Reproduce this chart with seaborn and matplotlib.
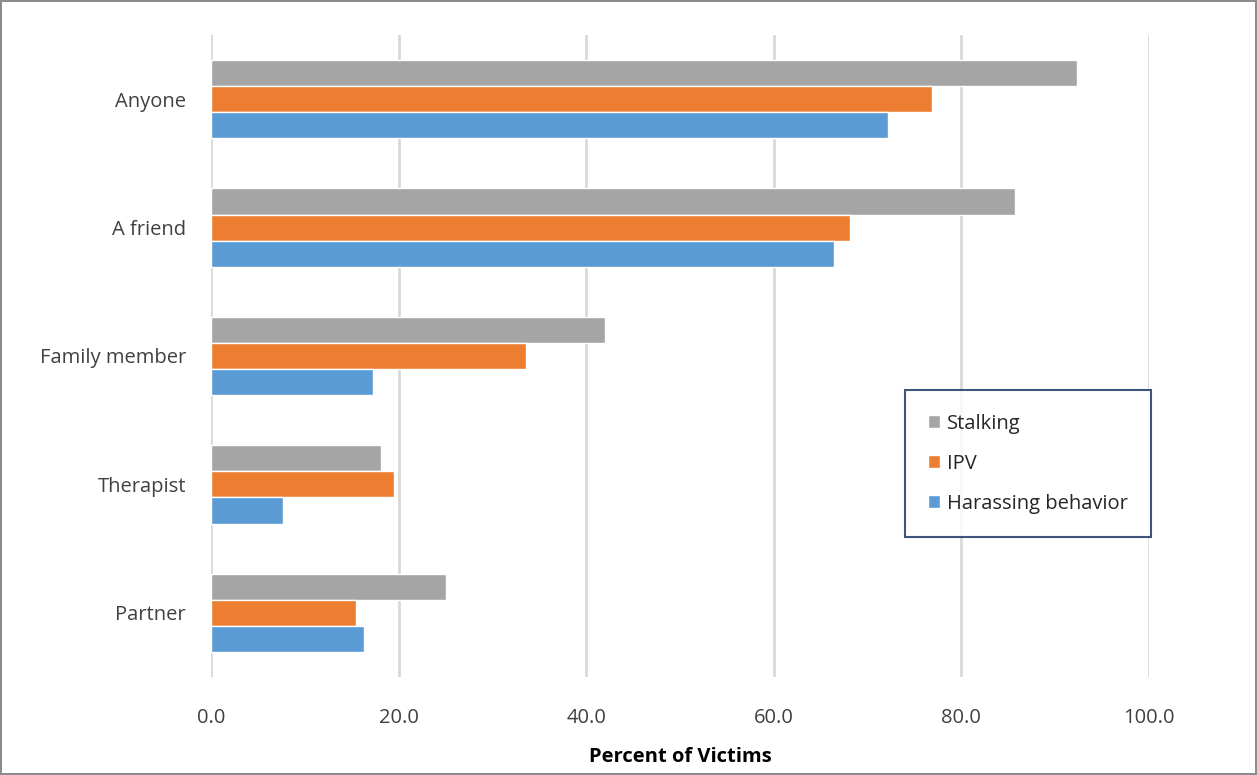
import matplotlib
matplotlib.use("Agg")
import matplotlib.pyplot as plt
import seaborn as sns
import pandas as pd

categories = ["Anyone", "A friend", "Family member", "Therapist", "Partner"]
stalking = [92.3, 85.7, 42.0, 18.1, 25.1]
ipv = [76.9, 68.1, 33.6, 19.5, 15.5]
harassing = [72.2, 66.4, 17.3, 7.7, 16.3]
series_names = ["Stalking", "IPV", "Harassing behavior"]
palette = {"Stalking": "#A5A5A5", "IPV": "#ED7D31", "Harassing behavior": "#5B9BD5"}

rows = []
for name, vals in zip(series_names, [stalking, ipv, harassing]):
    for cat, v in zip(categories, vals):
        rows.append({"category": cat, "series": name, "value": v})
df = pd.DataFrame(rows)

sns.set_theme(style="white")
plt.rcParams["font.family"] = ["Open Sans", "DejaVu Sans"]

fig = plt.figure(figsize=(12.57, 7.75), dpi=100)
fig.patch.set_edgecolor("#8C8C8C")
fig.patch.set_linewidth(1.5)
ax = fig.add_axes([0.1679, 0.1265, 0.7462, 0.8283])

sns.barplot(data=df, y="category", x="value", hue="series", order=categories,
            hue_order=series_names, palette=palette, orient="h", width=0.61,
            gap=0, saturation=1, ax=ax, zorder=3)

ax.set_xlim(0, 100)
ax.set_ylim(4.5, -0.5)
ax.set_xticks(range(0, 101, 20))
ax.set_xticklabels([f"{t:.1f}" for t in range(0, 101, 20)], fontsize=14.5, color="#404040")
ax.tick_params(axis="y", labelsize=14.5, labelcolor="#404040", length=0, pad=18)
ax.tick_params(axis="x", length=0, pad=22)
ax.xaxis.grid(True, color="#D9D9D9", linewidth=2)
ax.set_axisbelow(True)
for s in ax.spines.values():
    s.set_visible(False)
ax.set_ylabel("")
ax.set_xlabel("Percent of Victims", fontsize=14.5, fontweight="bold", color="#000000", labelpad=14)

leg = ax.legend(loc="lower right", bbox_to_anchor=(1.002, 0.218), fontsize=14.5,
                frameon=True, fancybox=False, handlelength=0.6, handleheight=0.6,
                labelspacing=1.0, borderpad=1.15, handletextpad=0.35, borderaxespad=0)
leg.get_frame().set_edgecolor("#0D2A5E")
leg.get_frame().set_linewidth(1.5)
for t in leg.get_texts():
    t.set_color("#262626")

fig.savefig("out.png", dpi=100, edgecolor=fig.get_edgecolor())
